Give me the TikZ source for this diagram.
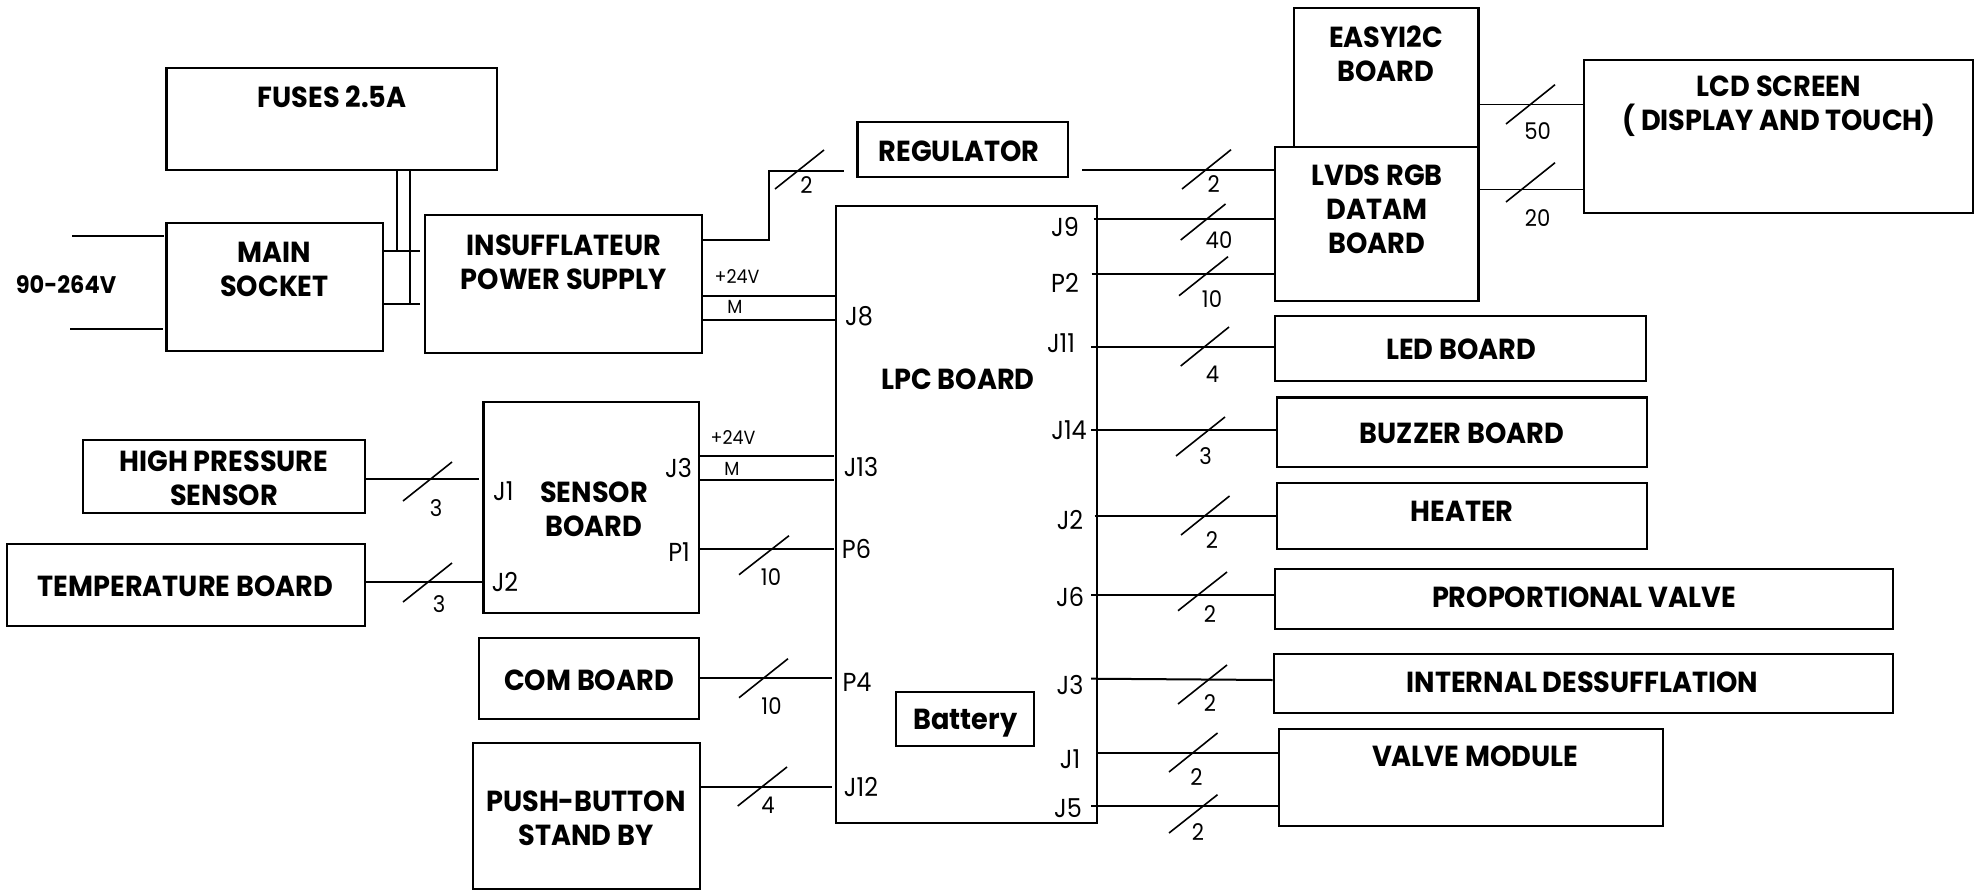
\documentclass[tikz,border=0pt]{standalone}
\usepackage{fontspec}
\setmainfont{Poppins}
\newfontfamily\tfont[FakeStretch=0.937]{Poppins}
\newfontfamily\nfont[FakeStretch=0.92]{Poppins}
\tikzset{
  x=1pt,y=-1pt,
  box/.style={draw=black,line width=2.2pt,fill=none,inner sep=0pt},
  title/.style={font=\tfont\fontsize{29}{34}\selectfont\bfseries,align=center,inner sep=0pt},
  pin/.style={font=\nfont\fontsize{26}{26}\selectfont,inner sep=0pt},
  wirecount/.style={font=\nfont\fontsize{23}{23}\selectfont,inner sep=0pt},
  rail/.style={font=\nfont\fontsize{19}{19}\selectfont,inner sep=0pt},
  wire/.style={draw=black,line width=2pt},
  tick/.style={draw=black,line width=1.6pt},
}
\newcommand{\blockbox}[8]{%
  \pgfmathsetmacro{\cxx}{(#2+#4)/2}\pgfmathsetmacro{\cyy}{(#3+#5)/2}%
  \pgfmathsetmacro{\www}{#4-#2}\pgfmathsetmacro{\hhh}{#5-#3}%
  \node[box,minimum width=\www pt,minimum height=\hhh pt] (#1) at (\cxx,\cyy) {};
  \node[title] (#1-t) at (#6,#7) {#8};
}
\begin{document}
\begin{tikzpicture}
\useasboundingbox (0,0) rectangle (1977,889);
% blocks
\blockbox{fuses}{166.5}{68}{497}{169.7}{332}{96.5}{FUSES 2.5A}
\blockbox{main}{166.5}{223}{383}{351}{274.5}{269.5}{MAIN\\SOCKET}
\blockbox{ins}{425}{215}{702}{353}{564}{262}{INSUFFLATEUR\\POWER SUPPLY}
\blockbox{reg}{857.5}{122}{1068}{176.7}{959}{151.5}{REGULATOR}
\blockbox{lpc}{836}{206}{1096.6}{823}{958}{379}{LPC BOARD}
\blockbox{easy}{1294}{8}{1478.5}{146.7}{1386}{53.5}{EASYI2C\\BOARD}
\blockbox{lvds}{1275}{146.7}{1478.5}{300.7}{1377}{209.5}{LVDS RGB\\DATAM\\BOARD}
\blockbox{lcd}{1584}{60}{1973}{213.3}{1779}{106}{LCD SCREEN\\( DISPLAY AND TOUCH)}
\blockbox{led}{1275}{315.7}{1646}{380.7}{1461}{349.5}{LED BOARD}
\blockbox{buz}{1277}{397.5}{1647}{466.7}{1462}{433.5}{BUZZER BOARD}
\blockbox{heat}{1277}{482.7}{1647}{548.7}{1462}{511}{HEATER}
\blockbox{prop}{1275}{569}{1892.6}{628.7}{1584}{597}{PROPORTIONAL VALVE}
\blockbox{intd}{1273.7}{654}{1892.6}{713}{1582.5}{682}{INTERNAL DESSUFFLATION}
\blockbox{valve}{1278.6}{729}{1663}{826}{1475}{756.5}{VALVE MODULE}
\blockbox{batt}{896}{691.7}{1033.7}{746}{965.5}{723}{Battery}
\blockbox{sens}{483.4}{401.7}{699}{612.7}{594}{509.5}{SENSOR\\BOARD}
\blockbox{hp}{82.7}{440}{365}{513}{224}{478.5}{HIGH PRESSURE\\SENSOR}
\blockbox{temp}{7}{544}{365}{626}{185.4}{586}{TEMPERATURE BOARD}
\blockbox{com}{479}{638}{699}{719}{589}{680}{COM BOARD}
\blockbox{push}{473}{742.7}{700}{889}{586}{818}{PUSH-BUTTON\\STAND BY}
\node[font=\tfont\fontsize{24}{24}\selectfont\bfseries,inner sep=0pt] (volt) at (66,285) {90-264V};
% free ends
\coordinate (acA) at (72,236);
\coordinate (acB) at (70,328.7);
\coordinate (fa) at (396.7,250.7);
\coordinate (fb) at (410,304);
\coordinate (ma) at (420,250.7);
\coordinate (mb) at (420,304);
\coordinate (up) at (769,170.7);
\coordinate (upend) at (844,170.7);
\coordinate (regout) at (1082,169.7);
\coordinate (j9r) at (1093.5,219.3);
\coordinate (p2r) at (1091.6,274.3);
\coordinate (j11r) at (1091,346.7);
\coordinate (j14r) at (1091,430);
\coordinate (j2r) at (1094.7,515.7);
\coordinate (j6r) at (1091,595);
\coordinate (j3r) at (1091,678.7);
\coordinate (j1r) at (1097,752.7);
\coordinate (j5r) at (1091,806);
% connectors
\draw[wire] (acA) -- (164,236);
\draw[wire] (acB) -- (162.5,328.7);
\draw[wire,line width=1.8pt] (fuses.south -| fa) -- (fa);
\draw[wire,line width=1.8pt] (fuses.south -| fb) -- (fb);
\draw[wire] (main.east |- ma) -- (ma);
\draw[wire] (main.east |- mb) -- (mb);
\draw[wire] (ins.east |- 0,239.7) -| (up) -- (upend);
\draw[wire] (ins.east |- 0,296) -- (lpc.west |- 0,296);
\draw[wire] (ins.east |- 0,320) -- (lpc.west |- 0,320);
\draw[wire] (regout) -- (lvds.west |- regout);
\draw[wire] (j9r) -- (lvds.west |- j9r);
\draw[wire] (p2r) -- (lvds.west |- p2r);
\draw[wire] (j11r) -- (led.west |- j11r);
\draw[wire] (j14r) -- (buz.west |- j14r);
\draw[wire] (j2r) -- (heat.west |- j2r);
\draw[wire] (j6r) -- (prop.west |- j6r);
\draw[wire] (j3r) -- (intd.west |- 0,680);
\draw[wire] (j1r) -- (valve.west |- j1r);
\draw[wire] (j5r) -- (valve.west |- j5r);
\draw[wire,line width=1.6pt] (easy.east |- 0,104.3) -- (lcd.west |- 0,104.3);
\draw[wire,line width=1.6pt] (lvds.east |- 0,189.3) -- (lcd.west |- 0,189.3);
\draw[wire] (hp.east |- 0,479.3) -- (479,479.3);
\draw[wire] (temp.east |- 0,582.3) -- (sens.west |- 0,582.3);
\draw[wire] (sens.east |- 0,455.7) -- (834,455.7);
\draw[wire] (sens.east |- 0,480) -- (834,480);
\draw[wire] (sens.east |- 0,548.7) -- (834,548.7);
\draw[wire] (com.east |- 0,678.3) -- (832,678.3);
\draw[wire] (push.east |- 0,786.7) -- (832,786.7);
% bus ticks
\draw[tick] (775,189) -- (824,150);
\draw[tick] (1182,189) -- (1231,149.7);
\draw[tick] (1180.7,240) -- (1225.5,204);
\draw[tick] (1179,295.7) -- (1228,256.7);
\draw[tick] (1180.7,366) -- (1229,327);
\draw[tick] (1506,124) -- (1555,84.7);
\draw[tick] (1506,202) -- (1555,162.7);
\draw[tick] (1176,456) -- (1225,417);
\draw[tick] (1181,535) -- (1229.5,496);
\draw[tick] (1178,610.7) -- (1227,572);
\draw[tick] (1178,704) -- (1227,665);
\draw[tick] (1169,772) -- (1217.5,733);
\draw[tick] (1169,833) -- (1217.5,794.7);
\draw[tick] (403,501) -- (452,462);
\draw[tick] (403,602) -- (452,563);
\draw[tick] (739,574.7) -- (789,535.7);
\draw[tick] (739,697.7) -- (788,658.7);
\draw[tick] (737.7,806) -- (787,767);
% wire counts
\node[wirecount] (n1) at (806.5,185) {2};
\node[wirecount] (n2) at (1213.7,184) {2};
\node[wirecount] (n3) at (1219,240) {40};
\node[wirecount] (n4) at (1212,299) {10};
\node[wirecount] (n5) at (1212.5,374) {4};
\node[wirecount] (n6) at (1537.7,130.7) {50};
\node[wirecount] (n7) at (1537.7,218) {20};
\node[wirecount] (n8) at (1205.6,456) {3};
\node[wirecount] (n9) at (1212,540) {2};
\node[wirecount] (n10) at (1210,614) {2};
\node[wirecount] (n11) at (1210,702.7) {2};
\node[wirecount] (n12) at (1196.5,777) {2};
\node[wirecount] (n13) at (1198,831.7) {2};
\node[wirecount] (n14) at (436,508) {3};
\node[wirecount] (n15) at (439,604) {3};
\node[wirecount] (n16) at (771,576.7) {10};
\node[wirecount] (n17) at (771.5,705.7) {10};
\node[wirecount] (n18) at (768,805.7) {4};
% rails
\node[rail] (r1) at (737,277) {+24V};
\node[rail] (r2) at (735,307) {M};
\node[rail] (r3) at (733,438) {+24V};
\node[rail] (r4) at (732,469) {M};
% pins
\node[pin] (p1) at (859,316) {J8};
\node[pin] (p2) at (1065,227) {J9};
\node[pin] (p3) at (1065,282.7) {P2};
\node[pin] (p4) at (1061,343) {J11};
\node[pin] (p5) at (1069,430) {J14};
\node[pin] (p6) at (1070,520) {J2};
\node[pin] (p7) at (1070,597) {J6};
\node[pin] (p8) at (1070,685) {J3};
\node[pin] (p9) at (1070,759) {J1};
\node[pin] (p10) at (1068,808) {J5};
\node[pin] (p11) at (503.4,490.7) {J1};
\node[pin] (p12) at (505,582) {J2};
\node[pin] (p13) at (678.5,467.7) {J3};
\node[pin] (p14) at (679,551.7) {P1};
\node[pin] (p15) at (861,466.7) {J13};
\node[pin] (p16) at (856.5,549) {P6};
\node[pin] (p17) at (857,682) {P4};
\node[pin] (p18) at (861,787) {J12};
\end{tikzpicture}
\end{document}
